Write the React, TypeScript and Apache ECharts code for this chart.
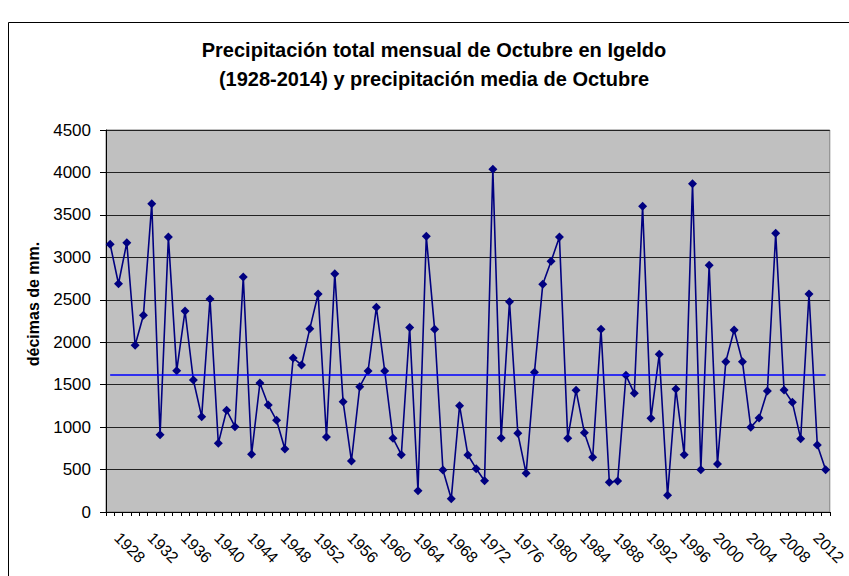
import React, { useEffect, useRef } from "react";
import * as echarts from "echarts";

const YEARS = [
  "1928","1929","1930","1931","1932","1933","1934","1935","1936","1937",
  "1938","1939","1940","1941","1942","1943","1944","1945","1946","1947",
  "1948","1949","1950","1951","1952","1953","1954","1955","1956","1957",
  "1958","1959","1960","1961","1962","1963","1964","1965","1966","1967",
  "1968","1969","1970","1971","1972","1973","1974","1975","1976","1977",
  "1978","1979","1980","1981","1982","1983","1984","1985","1986","1987",
  "1988","1989","1990","1991","1992","1993","1994","1995","1996","1997",
  "1998","1999","2000","2001","2002","2003","2004","2005","2006","2007",
  "2008","2009","2010","2011","2012","2013","2014",
];

const PRECIP = [
  3154, 2689, 3173, 1964, 2317, 3632, 911, 3240, 1665, 2368,
  1555, 1123, 2509, 809, 1198, 1005, 2768, 680, 1520, 1260,
  1080, 742, 1814, 1732, 2160, 2568, 884, 2808, 1300, 601,
  1476, 1661, 2411, 1661, 868, 675, 2172, 251, 3247, 2152,
  495, 157, 1253, 671, 510, 369, 4037, 872, 2478, 927,
  456, 1645, 2682, 2953, 3240, 868, 1433, 934, 644, 2152,
  350, 365, 1610, 1398, 3601, 1103, 1857, 196, 1449, 675,
  3868, 499, 2906, 565, 1771, 2144, 1771, 997, 1107, 1425,
  3283, 1437, 1292, 864, 2568, 789, 499,
];

const MEAN = 1617;

const TITLE_LINES = [
  "Precipitación total mensual de Octubre en Igeldo",
  "(1928-2014) y precipitación media de Octubre",
];
const Y_NAME = "décimas de mm.";

const FONT = "'Liberation Sans', Arial, sans-serif";

export default function App() {
  const ref = useRef<HTMLDivElement>(null);

  useEffect(() => {
    if (!ref.current) return;
    const chart = echarts.init(ref.current, null, { renderer: "svg" });
    chart.setOption({
      animation: false,
      backgroundColor: "#ffffff",
      textStyle: { fontFamily: FONT },
      title: {
        text: TITLE_LINES.join("\n"),
        left: 429,
        top: 30,
        textAlign: "center",
        textStyle: {
          fontFamily: FONT,
          fontWeight: "bold",
          fontSize: 20,
          lineHeight: 29,
          color: "#000",
        },
      },
      graphic: [
        {
          type: "rect",
          shape: { x: 8.5, y: 22.5, width: 900, height: 600 },
          style: { fill: "none", stroke: "#000", lineWidth: 1 },
          silent: true,
          z: 0,
        },
        {
          type: "text",
          x: 33,
          y: 304,
          rotation: Math.PI / 2,
          style: {
            text: Y_NAME,
            fontFamily: FONT,
            fontWeight: "bold",
            fontSize: 16,
            fill: "#000",
            align: "center",
            verticalAlign: "middle",
          },
        },
      ],
      grid: {
        left: 106,
        right: 17,
        top: 130,
        bottom: 64,
        show: true,
        backgroundColor: "#C0C0C0",
        borderColor: "#808080",
        borderWidth: 1,
      },
      xAxis: {
        type: "category",
        data: YEARS,
        boundaryGap: true,
        axisLine: { lineStyle: { color: "#000", width: 1 } },
        axisTick: { show: true, interval: 0, length: 4, lineStyle: { color: "#000" } },
        axisLabel: {
          interval: 3,
          rotate: -45,
          margin: 16,
          padding: [0, 0, 0, 10],
          fontSize: 16,
          color: "#000",
          fontFamily: FONT,
        },
        splitLine: { show: false },
      },
      yAxis: {
        type: "value",
        min: 0,
        max: 4500,
        interval: 500,
        axisLine: { show: true, lineStyle: { color: "#000", width: 1 } },
        axisTick: { show: true, length: 6, lineStyle: { color: "#000" } },
        axisLabel: {
          margin: 15,
          fontSize: 17,
          color: "#000",
          fontFamily: FONT,
          formatter: (v: number) => String(v),
        },
        splitLine: { show: true, lineStyle: { color: "#222", width: 1 } },
      },
      series: [
        {
          type: "line",
          name: "Precipitación",
          data: PRECIP,
          symbol: "diamond",
          symbolSize: 9,
          showAllSymbol: true,
          lineStyle: { color: "#000080", width: 1.6 },
          itemStyle: { color: "#000080" },
          z: 3,
          markLine: {
            silent: true,
            symbol: "none",
            label: { show: false },
            lineStyle: { color: "#0000FF", width: 1.5, type: "solid" },
            data: [
              [
                { coord: [YEARS[0], MEAN] },
                { coord: [YEARS[YEARS.length - 1], MEAN] },
              ],
            ],
          },
        },
      ],
    });
    return () => chart.dispose();
  }, []);

  return (
    <div
      ref={ref}
      style={{ position: "fixed", left: 0, top: 0, width: 849, height: 576 }}
    />
  );
}
